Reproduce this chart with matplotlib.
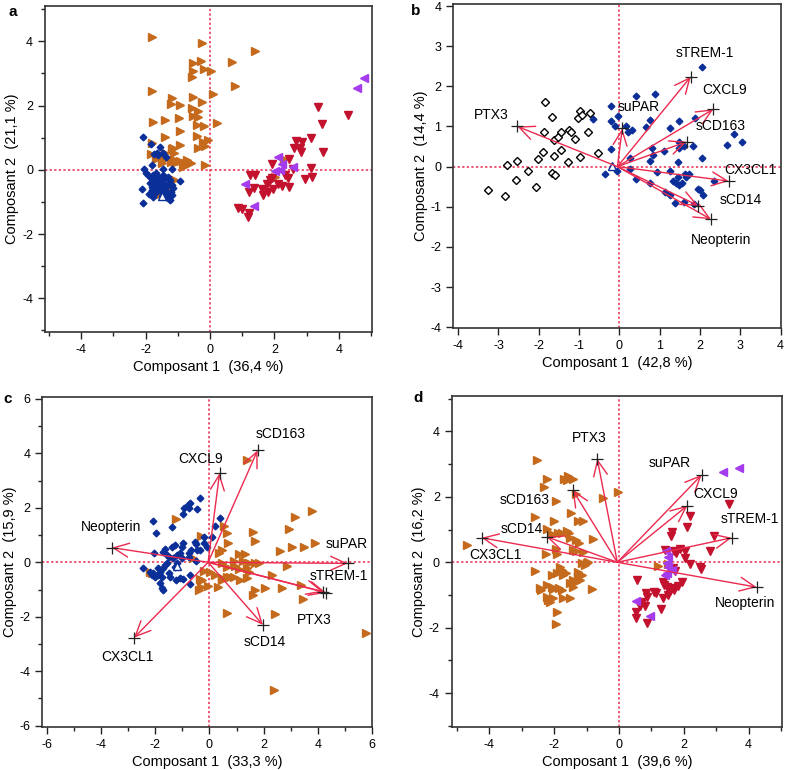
import matplotlib
matplotlib.use("Agg")
import matplotlib.pyplot as plt
from matplotlib.ticker import MultipleLocator

plt.rcParams['font.family'] = ['Liberation Sans', 'DejaVu Sans']

# colours
ORANGE = '#C56A1C'
BLUE = '#0B2F98'
RED = '#C3122E'
PURPLE = '#A43CEE'
PINK = '#EB2A4E'

# ---------------- panel a ----------------
a_or_x = [-1.79, -0.26, 1.40, -0.54, -0.28, -0.54, -0.19, 0.02, 0.67, -0.56, 0.79, -1.81, 0.10, -1.19, -0.53,
          -0.24, -1.22, -0.93, -0.55, -0.36, -0.52, -0.38, -0.96, -1.38, -1.76, 0.21, -0.39, -0.19, -0.93, -1.38,
          -0.41, -0.21, -0.05, -0.38, -0.16, -0.93, -1.17, -1.81, -1.11, -1.40, -1.83, -1.66, -1.50, -1.22, -1.09,
          -0.93, -0.78, -0.70, -0.62, -0.85, -0.16, -1.52, -1.11, -1.55, -1.29, 2.31, 2.02,
          -1.55, -1.45, -1.19, -1.09, -0.67, -0.60, -1.14, -1.14]
a_or_y = [4.12, 3.96, 3.70, 3.33, 3.40, 3.07, 3.13, 3.08, 3.35, 2.89, 2.62, 2.46, 2.35, 2.25, 2.28,
          2.10, 2.05, 2.01, 1.91, 1.83, 1.67, 1.63, 1.62, 1.55, 1.48, 1.45, 1.38, 1.35, 1.21, 1.03,
          1.05, 0.87, 0.92, 0.68, 0.75, 0.76, 0.65, 0.84, 0.51, 0.51, 0.48, 0.35, 0.20, 0.25, 0.30,
          0.26, 0.22, 0.32, 0.20, 0.09, 0.15, -0.37, -0.32, -0.74, -0.63, 0.35, -0.22,
          0.43, 0.30, 0.30, 0.22, 0.25, 0.20, -0.30, 0.67]

a_bl_x = [-2.07, -1.83, -1.55, -1.64, -1.74, -1.35, -2.05, -1.81, -1.45, -1.17, -0.93, -2.12, -2.07, -1.81, -1.97,
          -1.92, -1.84, -1.76, -1.71, -1.64, -1.57, -1.50, -1.43, -1.35, -1.26, -1.19, -1.14, -1.22, -1.29, -1.37,
          -1.45, -1.53, -1.60, -1.68, -1.74, -1.81, -1.86, -1.78, -1.68, -1.60, -1.47, -1.39, -1.29, -1.24, -1.66,
          -1.55, -1.40, -1.29, -1.24, -1.76, -1.88, -1.76, -1.50, -1.35, -1.19, -1.45, -1.61]
a_bl_y = [1.03, 0.80, 0.72, 0.51, 0.49, 0.40, 0.04, 0.15, 0.04, 0.01, -0.35, -0.61, -1.02, -0.53, -0.11,
          -0.17, -0.24, -0.32, -0.40, -0.48, -0.37, -0.30, -0.43, -0.53, -0.40, -0.48, -0.58, -0.69, -0.79, -0.84,
          -0.74, -0.65, -0.58, -0.69, -0.74, -0.63, -0.40, -0.17, -0.11, -0.22, -0.17, -0.27, -0.22, -0.32, -0.30,
          -0.53, -0.63, -0.89, -0.94, -0.53, -0.74, -0.84, -0.82, -0.69, -0.79, 0.51, 0.46]

a_rd_x = [3.34, 4.30, 3.47, 3.50, 3.14, 2.66, 2.85, 2.62, 2.80, 2.83, 2.46, 1.92, 3.14, 3.18, 2.95, 1.24, 1.40, 1.21,
          1.38, 1.61, 1.66, 1.76, 1.86, 1.94, 1.81, 1.97, 2.10, 2.25, 2.43, 2.45, 0.88, 1.00, 1.21, 1.19, 2.33, 2.59]
a_rd_y = [1.96, 1.70, 1.43, 0.56, 0.98, 0.89, 0.87, 0.69, 0.67, 0.54, 0.33, 0.17, 0.06, -0.22, -0.30, -0.17, -0.17, -0.69,
          -0.56, -0.60, -0.79, -0.45, -0.32, -0.27, -0.70, -0.60, -0.45, -0.50, -0.27, -0.53, -1.18, -1.22, -1.33, -1.46, -0.17, 0.04]

a_pu_x = [4.79, 4.56, 2.12, 2.25, 2.59, 2.02, 2.17, 1.09, 1.36]
a_pu_y = [2.85, 2.55, 0.41, 0.17, 0.09, -0.04, -0.01, -0.44, -1.12]

# ---------------- panel b ----------------
b_bl_x = [2.05, 0.42, 0.87, -0.22, -0.21, -0.04, -0.65, -0.12, 0.17, 0.21, 0.31, 0.75, 0.66, 1.26, 1.48,
          1.88, 0.81, 0.83, 0.77, 1.10, 1.47, 1.49, 1.59, 1.82, 2.05, 1.45, -0.21, 0.26, -0.37, -0.07,
          0.27, 0.40, 0.75, 0.93, 1.25, 1.14, 1.25, 1.33, 1.41, 1.49, 1.55, 1.62, 1.72, 1.45, 1.66,
          1.39, 1.60, 1.95, 2.01, 2.07, 1.86, 2.35, 2.68, 2.85, 3.04]
b_bl_y = [2.49, 1.77, 1.82, 1.51, 1.14, 1.26, 1.19, 1.02, 1.01, 0.85, 0.91, 1.16, 0.98, 0.97, 1.14,
          1.22, 0.47, 0.29, 0.14, 0.39, 0.61, 0.47, 0.52, 0.52, 0.22, 0.11, 0.44, 0.22, -0.19, -0.11,
          -0.07, -0.32, -0.40, -0.14, -0.11, -0.64, -0.70, -0.37, -0.41, -0.46, -0.41, -0.18, -0.19, -0.25, -0.25,
          -0.91, -0.87, -0.56, -0.58, -0.70, -0.94, -0.37, 0.54, 0.80, 0.62]

b_od_x = [-3.26, -2.85, -2.78, -2.55, -2.56, -2.27, -2.08, -2.01, -1.90, -1.86, -1.85, -1.68, -1.68, -1.61, -1.63,
          -1.63, -1.53, -1.46, -1.44, -1.27, -1.24, -1.21, -1.11, -1.02, -0.98, -0.92, -0.97, -0.74, -0.78, -0.53]
b_od_y = [-0.58, -0.73, 0.04, 0.13, -0.33, -0.12, -0.52, 0.19, 0.36, 0.87, 1.62, 1.24, -0.17, -0.21, 0.27,
          0.66, 0.75, 0.41, 0.87, 0.11, 0.90, 0.87, 0.70, 1.20, 1.38, 1.29, 0.23, 1.34, 0.85, 0.35]

b_vars = ['PTX3', 'suPAR', 'sTREM-1', 'CXCL9', 'sCD163', 'CX3CL1', 'sCD14', 'Neopterin']
b_load_x = [-2.53, 0.07, 1.77, 2.33, 1.67, 2.71, 1.95, 2.27]
b_load_y = [1.00, 0.95, 2.24, 1.43, 0.62, -0.36, -0.97, -1.31]
b_lab_x = [-3.19, 0.48, 2.13, 2.62, 2.52, 3.26, 3.00, 2.52]
b_lab_y = [1.29, 1.49, 2.82, 1.92, 1.01, -0.08, -0.83, -1.82]

# ---------------- panel c ----------------
c_bl_x = [-0.34, -0.80, -0.71, -0.77, -0.93, -0.47, -0.98, 0.39, -2.09, -1.38, -1.97, 0.21, 0.09, -0.20, -0.53,
          -0.50, -0.20, -0.10, -0.47, -0.98, -1.02, -1.27, -1.39, -1.64, -1.70, -1.08, -0.77, -0.69, -2.04, -1.57,
          -1.51, -1.35, -1.21, -1.27, -1.57, -1.64, -1.70, -2.44, -2.19, -2.07, -1.88, -1.82, -1.76, -1.88, -2.00,
          -1.23, -1.08, -0.98, -0.71, -0.71, -1.82, -1.76, -1.70, -1.45, -1.51, -2.13, -0.77, -1.21, -1.02, -0.49, -0.34]
c_bl_y = [2.38, 2.11, 2.17, 1.99, 2.01, 1.95, 1.78, 1.62, 1.52, 1.31, 1.07, 1.34, 0.94, 0.94, 0.74,
          0.66, 0.70, 0.58, 0.45, 0.70, 0.58, 0.64, 0.58, 0.48, 0.39, 0.33, 0.33, 0.45, 0.33, 0.27,
          0.21, 0.15, -0.04, -0.16, -0.04, -0.10, -0.22, -0.22, -0.34, -0.40, -0.22, -0.34, -0.53, -0.47, -0.55,
          -0.65, -0.59, -0.63, -0.47, -0.80, -0.77, -0.96, -1.02, -0.53, -0.40, -0.47, 0.21, 0.27, 0.15, 0.05, 0.45]

c_or_x = [1.38, 3.78, 3.16, 2.94, -1.23, -0.32, 0.55, 0.66, 1.59, 1.66, 0.70, 2.61, 3.04, 3.47, 3.87,
          1.07, 1.32, 0.46, 0.36, 0.89, 1.25, 1.44, 1.69, 1.81, 2.86, 0.46, 0.64, 0.95, 1.07, 1.38,
          1.44, -0.22, 0.03, 0.21, 0.46, 0.64, 0.76, 0.92, -0.34, -0.31, -0.04, 0.33, 0.46, 2.32, 2.69,
          3.38, 3.43, 1.59, 1.66, 2.06, 2.40, 0.66, 5.77, 2.36, -2.21, -2.13, -0.59, -0.28, -0.37, 1.13, 1.38]
c_or_y = [3.74, 1.89, 1.68, 1.21, 1.58, 0.98, 1.33, 1.07, 1.10, 0.78, 0.72, 0.42, 0.57, 0.57, 0.70,
          0.31, 0.31, 0.45, 0.35, 0.06, 0.06, -0.01, -0.04, -0.04, -0.14, -0.04, -0.18, -0.14, -0.26, -0.22,
          -0.35, -0.31, -0.35, -0.47, -0.59, -0.53, -0.55, -0.55, -0.63, -0.90, -0.87, -0.92, -0.65, -0.47, -0.96,
          -0.83, -1.36, -1.20, -1.02, -0.96, -1.90, -1.85, -2.61, -4.69, -0.34, -0.40, 0.15, -0.65, -1.02, -0.65, -0.59]

c_vars = ['Neopterin', 'CX3CL1', 'CXCL9', 'sCD163', 'suPAR', 'sTREM-1', 'PTX3', 'sCD14']
c_load_x = [-3.60, -2.78, 0.37, 1.77, 5.09, 4.30, 4.20, 1.97]
c_load_y = [0.54, -2.77, 3.27, 4.11, -0.04, -1.12, -1.08, -2.30]
c_lab_x = [-3.64, -3.03, -0.32, 2.61, 5.07, 4.76, 3.86, 2.05]
c_lab_y = [1.29, -3.47, 3.80, 4.72, 0.67, -0.50, -2.12, -2.92]

# ---------------- panel d ----------------
d_or_x = [-2.54, -2.21, -2.31, -1.94, -1.70, -1.57, -1.41, -1.61, -1.33, -0.48, -0.02, -2.59, -2.00, -1.49, -1.26,
          -1.10, -2.23, -2.08, -1.87, -1.77, -1.61, -1.53, -1.51, -1.33, -1.22, -0.79, -1.94, -1.92, -1.41, -1.31,
          -1.10, -4.70, -2.25, -2.59, -1.82, -1.77, -1.92, -1.72, -1.62, -2.08, -1.15, -1.05, -1.00, -0.95, -1.26,
          -1.15, -1.26, -1.41, -1.31, -1.20, -2.23, -2.39, -2.08, -2.03, -1.84, -2.23, -2.03, -2.18, -1.77, -1.72,
          -1.51, -1.41, -0.84, -1.92, -1.94, 1.21, 1.52, -2.44, -1.51, -2.13]
d_or_y = [3.14, 2.53, 2.31, 1.87, 2.54, 2.64, 2.54, 2.51, 2.08, 1.95, 2.16, 1.39, 1.27, 1.50, 1.27,
          1.27, 1.01, 0.87, 0.89, 0.91, 0.97, 0.90, 0.73, 0.68, 0.58, 0.70, 0.40, 0.25, 0.38, 0.35,
          0.32, 0.53, 0.25, -0.26, -0.13, -0.23, -0.34, -0.39, -0.32, -0.39, -0.03, -0.08, -0.03, 0.02, -0.29,
          -0.39, -0.44, -0.54, -0.59, -0.54, -0.69, -0.84, -0.74, -0.82, -0.79, -1.05, -1.10, -1.15, -0.84, -1.10,
          -1.10, -0.74, -0.81, -1.51, -1.88, -0.10, -0.06, -0.79, -0.64, -1.22]

d_rd_x = [3.41, 2.19, 2.11, 1.65, 1.62, 2.93, 2.81, 2.04, 1.69, 1.76, 1.88, 2.04, 2.19, 2.50, 2.53, 1.42, 1.57, 1.67,
          1.73, 0.55, 0.83, 0.85, 1.08, 1.14, 1.35, 1.40, 1.47, 1.57, 1.67, 1.50, 1.37, 1.83, 1.71, 1.93, 1.30, 0.70,
          0.80, 0.65, 0.52, 0.54, 0.87]
d_rd_y = [1.77, 1.41, 1.07, 0.94, 0.80, 0.81, 0.36, 0.36, 0.36, 0.27, 0.40, 0.12, -0.06, -0.13, -0.21, 0.38, -0.23, -0.18,
          -0.28, -0.54, -0.95, -1.07, -0.90, -0.95, -0.59, -0.69, -0.74, -0.87, -0.79, -1.00, -1.10, -0.72, -0.84, -0.61,
          -1.42, -1.20, -1.33, -1.35, -1.53, -1.71, -1.86]

d_pu_x = [3.20, 3.71, 1.44, 1.52, 1.47, 1.52, 1.63, 1.42, 1.47, 0.52, 0.96]
d_pu_y = [2.77, 2.87, 0.35, 0.17, -0.03, -0.13, -0.23, -0.39, -0.32, -1.17, -1.63]

d_vars = ['PTX3', 'sCD163', 'sCD14', 'CX3CL1', 'suPAR', 'CXCL9', 'sTREM-1', 'Neopterin']
d_load_x = [-0.67, -1.43, -2.23, -4.24, 2.55, 2.11, 3.48, 4.25]
d_load_y = [3.16, 2.21, 0.78, 0.75, 2.67, 1.73, 0.75, -0.76]
d_lab_x = [-0.92, -2.90, -3.00, -3.80, 1.57, 2.99, 4.04, 3.89]
d_lab_y = [3.79, 1.90, 1.01, 0.22, 3.02, 2.08, 1.31, -1.25]

# centroid markers (open triangles)
a_cen = (-1.50, -0.82)
b_cen = (-0.18, 0.02)
c_cen = (-1.21, -0.13)


def style_axes(ax, xlim, ylim, major, minor, xlabel, ylabel):
    ax.set_xlim(*xlim)
    ax.set_ylim(*ylim)
    ax.xaxis.set_major_locator(MultipleLocator(major))
    ax.yaxis.set_major_locator(MultipleLocator(major))
    if minor:
        ax.xaxis.set_minor_locator(MultipleLocator(minor))
        ax.yaxis.set_minor_locator(MultipleLocator(minor))
    ax.tick_params(which='major', direction='out', length=5, width=1, labelsize=9, color='#222222')
    ax.tick_params(which='minor', direction='out', length=3, width=1, color='#222222')
    for s in ax.spines.values():
        s.set_linewidth(1.2)
        s.set_color('#333333')
    ax.axhline(0, color=PINK, lw=1.1, ls=(0, (1.5, 1.5)), zorder=1)
    ax.axvline(0, color=PINK, lw=1.1, ls=(0, (1.5, 1.5)), zorder=1)
    ax.set_xlabel(xlabel, fontsize=10.5, labelpad=3)
    ax.set_ylabel(ylabel, fontsize=10.5, labelpad=2)
    fmt = lambda v, p: '%g' % v
    ax.xaxis.set_major_formatter(fmt)
    ax.yaxis.set_major_formatter(fmt)


def draw_loadings(ax, names, lx, ly, tx, ty):
    for n, x, y, u, v in zip(names, lx, ly, tx, ty):
        ax.annotate('', xy=(x, y), xytext=(-0.05, 0.0),
                    arrowprops=dict(arrowstyle='->,head_length=1.1,head_width=0.5', color=PINK,
                                    lw=1.0, shrinkA=0, shrinkB=0, mutation_scale=10), zorder=4)
        ax.plot(x, y, marker='+', color='#222222', ms=8, mew=0.9, zorder=5)
        ax.text(u, v, n, fontsize=10, ha='center', va='center', zorder=6)


fig = plt.figure(figsize=(7.85, 7.7), dpi=100)

axa = fig.add_axes([0.0573, 0.5688, 0.4166, 0.4234])
axb = fig.add_axes([0.5775, 0.5740, 0.4170, 0.4208])
axc = fig.add_axes([0.0539, 0.0562, 0.4204, 0.4278])
axd = fig.add_axes([0.5754, 0.0555, 0.4212, 0.4302])

tri = dict(ms=5.2, ls='none', zorder=3)
dia = dict(ms=3.4, ls='none', zorder=3)

# a
axa.plot(a_or_x, a_or_y, '>', color=ORANGE, **tri)
axa.plot(a_bl_x, a_bl_y, 'D', color=BLUE, **dia)
axa.plot(a_rd_x, a_rd_y, 'v', color=RED, **tri)
axa.plot(a_pu_x, a_pu_y, '<', color=PURPLE, **tri)
axa.plot(*a_cen, '^', mfc='white', mec=BLUE, ms=5.5, mew=1, zorder=4)
style_axes(axa, (-5.12, 5.03), (-5.05, 5.1), 2, 1, 'Composant 1  (36,4 %)', 'Composant 2  (21,1 %)')

# b
axb.plot(b_bl_x, b_bl_y, 'D', color=BLUE, **dia)
axb.plot(b_od_x, b_od_y, 'D', mfc='white', mec='black', ms=3.8, mew=1, ls='none', zorder=3)
axb.plot(*b_cen, '^', mfc='white', mec=BLUE, ms=5.5, mew=1, zorder=4)
draw_loadings(axb, b_vars, b_load_x, b_load_y, b_lab_x, b_lab_y)
style_axes(axb, (-4.12, 4.0), (-4.02, 4.05), 1, None, 'Composant 1  (42,8 %)', 'Composant 2  (14,4 %)')

# c
axc.plot(c_or_x, c_or_y, '>', color=ORANGE, **tri)
axc.plot(c_bl_x, c_bl_y, 'D', color=BLUE, **dia)
axc.plot(*c_cen, '^', mfc='white', mec=BLUE, ms=5.5, mew=1, zorder=4)
draw_loadings(axc, c_vars, c_load_x, c_load_y, c_lab_x, c_lab_y)
style_axes(axc, (-6.16, 6.0), (-6.04, 6.06), 2, 1, 'Composant 1  (33,3 %)', 'Composant 2  (15,9 %)')

# d
axd.plot(d_or_x, d_or_y, '>', color=ORANGE, **tri)
axd.plot(d_rd_x, d_rd_y, 'v', color=RED, **tri)
axd.plot(d_pu_x, d_pu_y, '<', color=PURPLE, **tri)
draw_loadings(axd, d_vars, d_load_x, d_load_y, d_lab_x, d_lab_y)
style_axes(axd, (-5.16, 5.04), (-5.04, 5.08), 2, 1, 'Composant 1  (39,6 %)', 'Composant 2  (16,2 %)')

for lab, x, y in [('a', 13 / 785, 1 - 12 / 770), ('b', 416 / 785, 1 - 11 / 770),
                  ('c', 8 / 785, 1 - 399 / 770), ('d', 418 / 785, 1 - 398 / 770)]:
    fig.text(x, y, lab, fontsize=11, fontweight='bold', ha='center', va='center')

fig.savefig('out.png', dpi=100)
